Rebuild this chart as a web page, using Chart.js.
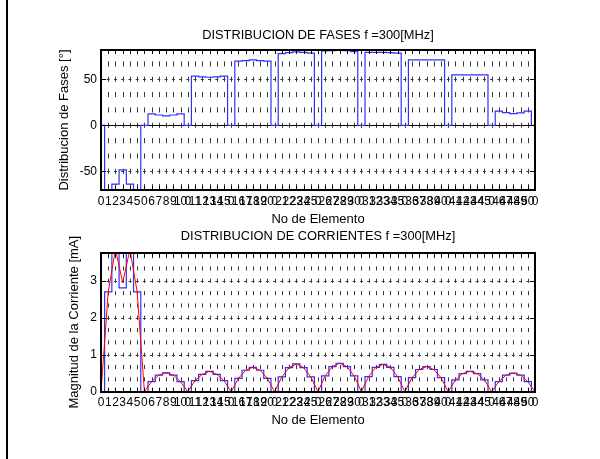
<!DOCTYPE html>
<html>
<head>
<meta charset="utf-8">
<script src="https://cdn.jsdelivr.net/npm/chart.js@4.4.1/dist/chart.umd.min.js"></script>
<style>
  body { margin: 0; background: #fff; }
  #fig { position: relative; width: 600px; height: 459px; overflow: hidden; background: #fff; }
  #marco { position: absolute; left: 6px; top: 0; width: 2px; height: 459px; background: #000; }
  .caja { position: absolute; left: 0; width: 600px; }
</style>
</head>
<body>
<div id="fig">
  <div id="marco"></div>
  <div class="caja" style="top:0;height:230px"><canvas id="fases" width="600" height="230"></canvas></div>
  <div class="caja" style="top:222px;height:237px"><canvas id="corrientes" width="600" height="237"></canvas></div>
</div>
<script>
// etiquetas del eje x (un cero entre cada subarreglo)
const etiquetasX = ['0','1','2','3','4','5','0','6','7','8','9','10','0','11','12','13','14','15','0',
  '16','17','18','19','20','0','21','22','23','24','25','0','26','27','28','29','30','0',
  '31','32','33','34','35','0','36','37','38','39','40','0','41','42','43','44','45','0',
  '46','47','48','49','50','0'];

// fase de cada elemento [grados], 10 grupos de 5
const fases = [
  -70.3, -64, -48.5, -64, -70.3,
  12.3, 11.2, 10.2, 11.2, 12.3,
  53.5, 52.5, 52.2, 52.5, 53.5,
  69.8, 70.3, 71, 70.3, 69.8,
  77.8, 79, 79.7, 79.3, 78.5,
  80.8, 81.2, 81.5, 81, 80,
  79.3, 79.3, 79.3, 79, 78.5,
  71, 71, 71, 71, 71,
  54.7, 54.7, 54.7, 54.7, 54.7,
  15.5, 13.7, 12.6, 13.5, 15.5
];

// magnitud de corriente de cada elemento [mA]
const corrientes = [
  2.7, 3.76, 2.81, 3.76, 2.7,
  0.27, 0.45, 0.51, 0.45, 0.27,
  0.3, 0.47, 0.55, 0.47, 0.3,
  0.36, 0.58, 0.66, 0.58, 0.36,
  0.4, 0.65, 0.75, 0.65, 0.4,
  0.43, 0.68, 0.77, 0.68, 0.43,
  0.41, 0.66, 0.74, 0.66, 0.41,
  0.38, 0.6, 0.68, 0.6, 0.38,
  0.32, 0.49, 0.55, 0.49, 0.32,
  0.27, 0.45, 0.5, 0.45, 0.27
];

// curva roja (un valor por posicion del eje x)
const curvaRoja = [
  0, 2.7, 3.85, 2.95, 3.85, 2.7,
  0, 0.27, 0.45, 0.51, 0.45, 0.27,
  0, 0.3, 0.47, 0.55, 0.47, 0.3,
  0, 0.36, 0.58, 0.66, 0.58, 0.36,
  0, 0.4, 0.65, 0.75, 0.65, 0.4,
  0, 0.43, 0.68, 0.77, 0.68, 0.43,
  0, 0.41, 0.66, 0.74, 0.66, 0.41,
  0, 0.38, 0.6, 0.68, 0.6, 0.38,
  0, 0.32, 0.49, 0.55, 0.49, 0.32,
  0, 0.27, 0.45, 0.5, 0.45, 0.27,
  0
];

const ticksFases = [-50, 0, 50];
const ticksCorr = [0, 1, 2, 3];

const fuente = "'Liberation Sans', Arial, Helvetica, sans-serif";

// escalera: cada elemento ocupa una posicion, con un hueco en cero entre grupos
function escalera(vals) {
  const pts = [{x: 0, y: 0}];
  for (let g = 0; g < 10; g++) {
    for (let e = 0; e < 5; e++) pts.push({x: g * 6 + e + 0.5, y: vals[g * 5 + e]});
    pts.push({x: g * 6 + 5.5, y: 0});
  }
  pts.push({x: 60, y: 0});
  return pts;
}

// rejilla punteada, marcas hacia adentro y caja estilo matlab
const ejesMatlab = {
  id: 'ejesMatlab',
  beforeDatasetsDraw(chart, args, opts) {
    const {ctx, chartArea: a, scales: {x, y}} = chart;
    const yt = y.ticks.map(t => y.getPixelForValue(t.value));
    const periodo = Math.abs(yt[1] - yt[0]) / 3;   // tres trazos entre marcas
    const trazo = periodo / 3;
    const y0 = yt[0];
    ctx.save();
    ctx.lineWidth = 1;
    ctx.strokeStyle = '#383838';
    ctx.setLineDash([trazo, periodo - trazo]);
    // trazos centrados sobre las lineas horizontales
    ctx.lineDashOffset = ((a.top - y0) % periodo + periodo) % periodo + trazo / 2;
    x.ticks.forEach(t => {
      const px = Math.round(x.getPixelForValue(t.value)) + 0.5;
      ctx.beginPath(); ctx.moveTo(px, a.top); ctx.lineTo(px, a.bottom); ctx.stroke();
    });
    const px0 = x.getPixelForValue(0);
    const paso = x.getPixelForValue(1) - px0;
    ctx.setLineDash([3, paso - 3]);
    ctx.lineDashOffset = 1.5;
    y.ticks.forEach(t => {
      const py = Math.round(y.getPixelForValue(t.value)) + 0.5;
      if (opts.cero && t.value === 0) return;
      ctx.beginPath(); ctx.moveTo(px0, py); ctx.lineTo(a.right, py); ctx.stroke();
    });
    if (opts.cero) {
      ctx.setLineDash([]);
      ctx.strokeStyle = '#000';
      const py = Math.round(y.getPixelForValue(0)) + 0.5;
      ctx.beginPath(); ctx.moveTo(a.left, py); ctx.lineTo(a.right, py); ctx.stroke();
    }
    ctx.restore();
  },
  afterDatasetsDraw(chart) {
    const {ctx, chartArea: a, scales: {x, y}} = chart;
    ctx.save();
    ctx.strokeStyle = '#000';
    ctx.lineWidth = 1;
    x.ticks.forEach(t => {
      const px = Math.round(x.getPixelForValue(t.value)) + 0.5;
      ctx.beginPath();
      ctx.moveTo(px, a.bottom); ctx.lineTo(px, a.bottom - 4);
      ctx.moveTo(px, a.top); ctx.lineTo(px, a.top + 4);
      ctx.stroke();
    });
    y.ticks.forEach(t => {
      const py = Math.round(y.getPixelForValue(t.value)) + 0.5;
      ctx.beginPath();
      ctx.moveTo(a.left, py); ctx.lineTo(a.left + 5, py);
      ctx.moveTo(a.right, py); ctx.lineTo(a.right - 5, py);
      ctx.stroke();
    });
    ctx.lineWidth = 2;
    ctx.strokeRect(Math.round(a.left), Math.round(a.top), Math.round(a.right - a.left), Math.round(a.bottom - a.top));
    ctx.restore();
  }
};

function crearGrafico(id, cfg) {
  const datasets = [];
  if (cfg.roja) {
    datasets.push({
      data: cfg.roja.map((v, i) => ({x: i, y: v})),
      borderColor: '#ff0000', borderWidth: 1, pointRadius: 0, tension: 0
    });
  }
  datasets.push({
    data: escalera(cfg.valores),
    borderColor: '#3030ff', borderWidth: 1.2, pointRadius: 0, stepped: true
  });
  return new Chart(document.getElementById(id), {
    type: 'line',
    data: {datasets: datasets},
    options: {
      responsive: false,
      animation: false,
      layout: {padding: {left: cfg.padIzq, right: 65, top: 0, bottom: 0}},
      plugins: {
        legend: {display: false},
        tooltip: {enabled: false},
        ejesMatlab: {cero: cfg.cero}
      },
      scales: {
        // eje superior vacio, solo para centrar el titulo sobre los ejes
        arriba: {
          type: 'linear', position: 'top',
          afterFit: s => { s.height = cfg.altoTitulo; },
          grid: {display: false, drawTicks: false},
          border: {display: false},
          ticks: {display: false},
          title: {
            display: true, text: cfg.titulo, color: '#000',
            font: {family: fuente, size: 12.85}, padding: {top: cfg.tituloArriba, bottom: 0}
          }
        },
        x: {
          type: 'linear', min: 0, max: 60,
          afterBuildTicks: s => { s.ticks = etiquetasX.map((l, i) => ({value: i})); },
          afterFit: s => { s.height = cfg.altoX; },
          grid: {display: false, drawTicks: false},
          border: {display: false},
          ticks: {
            autoSkip: false, maxRotation: 0, minRotation: 0, padding: 4, color: '#000',
            font: {family: fuente, size: 12},
            callback: (v, i) => etiquetasX[i]
          },
          title: {
            display: true, text: 'No de Elemento', color: '#000',
            font: {family: fuente, size: 13}, padding: {top: 0, bottom: cfg.tituloXAbajo}
          }
        },
        y: {
          type: 'linear', min: cfg.yMin, max: cfg.yMax,
          afterBuildTicks: s => { s.ticks = cfg.ticksY.map(v => ({value: v})); },
          afterFit: s => { s.width = 101 - cfg.padIzq; },
          grid: {display: false, drawTicks: false},
          border: {display: false},
          ticks: {padding: 4, color: '#000', font: {family: fuente, size: 12}},
          title: {
            display: true, text: cfg.tituloY, color: '#000',
            font: {family: fuente, size: 13}, padding: {top: cfg.tituloYPad, bottom: 0}
          }
        }
      }
    },
    plugins: [ejesMatlab]
  });
}

crearGrafico('fases', {
  valores: fases, titulo: 'DISTRIBUCION DE FASES f =300[MHz]', tituloY: 'Distribucion de Fases [°]',
  yMin: -70.3, yMax: 81.8, ticksY: ticksFases, cero: true,
  padIzq: 50, tituloYPad: 6.2, altoTitulo: 50, tituloArriba: 28, altoX: 40, tituloXAbajo: 3.2
});

crearGrafico('corrientes', {
  valores: corrientes, roja: curvaRoja, titulo: 'DISTRIBUCION DE CORRIENTES f =300[MHz]',
  tituloY: 'Magnitud de la Corriente [mA]',
  yMin: 0, yMax: 3.76, ticksY: ticksCorr, cero: false,
  padIzq: 61, tituloYPad: 5.4, altoTitulo: 30.7, tituloArriba: 7.2, altoX: 67.3, tituloXAbajo: 31.2
});
</script>
</body>
</html>
